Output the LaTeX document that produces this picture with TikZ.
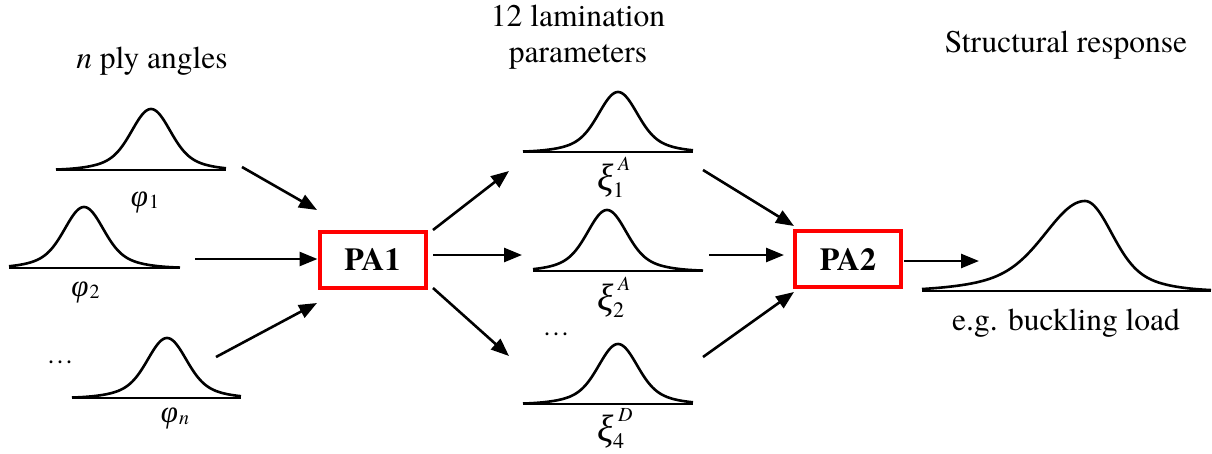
\documentclass[tikz,border=0pt]{standalone}
\usepackage{fontspec}
\setmainfont{texgyretermes}[Extension=.otf, UprightFont=*-regular, BoldFont=*-bold, ItalicFont=*-italic, BoldItalicFont=*-bolditalic]
\newfontfamily\greekit{Liberation Serif Italic}
\usetikzlibrary{arrows.meta}
\newcommand\bellcurve[7]{%
  \draw[curve] (#1,#4) -- (#2,#4);
  \draw[curve] plot[domain=#1:#3, samples=70] (\x, {#4-#5*(0.75*exp(-0.5*((\x-#3)/#6)*((\x-#3)/#6))+0.25*exp(-0.125*((\x-#3)/#6)*((\x-#3)/#6)))})
     -- plot[domain=#3:#2, samples=70] (\x, {#4-#5*(0.75*exp(-0.5*((\x-#3)/#7)*((\x-#3)/#7))+0.25*exp(-0.125*((\x-#3)/#7)*((\x-#3)/#7)))});
}
\tikzset{
  big/.style={font=\rmfamily\fontsize{31.5}{36}\selectfont, inner sep=0pt, align=center},
  lab/.style={font=\rmfamily\fontsize{31}{34}\selectfont, inner sep=0pt, anchor=north},
  dots/.style={font=\rmfamily\fontsize{27}{30}\selectfont, inner sep=0pt},
  pabox/.style={draw=red, line width=4pt, minimum width=106pt, minimum height=56pt, inner sep=0pt, font=\rmfamily\fontsize{32}{36}\selectfont\bfseries},
  arr/.style={line width=2.6pt, -{Triangle[length=18pt,width=14pt]}},
  curve/.style={line width=2.6pt, line join=round, line cap=butt},
}
\newcommand\phil[1]{{\greekit φ}\hspace{1pt}\raisebox{-2pt}{\fontsize{20}{22}\selectfont #1}}
\newcommand\xil[2]{{\fontsize{38}{40}\selectfont\greekit ξ}\hspace{-1pt}\makebox[0pt][l]{\hspace{5pt}\raisebox{20pt}{\fontsize{20}{22}\selectfont\itshape #1}}\raisebox{-7pt}{\fontsize{22}{24}\selectfont #2}\hspace{13pt}}
\begin{document}
\begin{tikzpicture}[x=1pt,y=-1pt]
\useasboundingbox (0,0) rectangle (1212,453);
% titles
\node[big, anchor=base] (t1) at (152,68) {{\itshape n} ply angles};
\node[big, anchor=north] (t2) at (578,5) {12 lamination\\parameters};
\node[big, anchor=base] (t3) at (1066,52) {Structural response};
\node[big, anchor=base] (t4) at (1066,330) {e.g. buckling load};
% left distributions
\bellcurve{56}{226}{151}{170}{61}{18}{18}
\bellcurve{9}{180}{84}{268}{61}{18}{18}
\bellcurve{72}{241}{167}{398}{60}{18}{18}
\node[lab] (p1) at (145,192) {\phil{1}};
\node[lab] (p2) at (85.5,282) {\phil{2}};
\node[lab] (pn) at (175,408) {\phil{\itshape n}};
\node[dots] (d1) at (60,362) {\ldots};
% middle distributions
\bellcurve{523}{693}{618}{152}{60}{18}{18}
\bellcurve{533}{703}{607}{271}{61}{18}{18}
\bellcurve{523}{693}{618}{404}{60}{18}{18}
\node[lab] (x1) at (611,157) {\xil{A}{1}};
\node[lab] (x2) at (611,277) {\xil{A}{2}};
\node[lab] (x4) at (611,408) {\xil{D}{4}};
\node[dots] (d2) at (556,334) {\ldots};
% right distribution
\bellcurve{922}{1211}{1085}{291}{90}{37}{25}
% boxes
\node[pabox] (PA1) at (372.5,259.5) {PA1};
\node[pabox] (PA2) at (848,259) {PA2};
% arrow coordinates
\coordinate (a1s) at (242,167); \coordinate (a1e) at (317,210);
\coordinate (a2s) at (195,259);
\coordinate (a3s) at (216,357); \coordinate (a3e) at (317,303);
\coordinate (b1s) at (433,230); \coordinate (b1e) at (509,171);
\coordinate (b2s) at (433,255); \coordinate (b2e) at (522,255);
\coordinate (b3s) at (433,288); \coordinate (b3e) at (509,356);
\coordinate (c1s) at (703,170); \coordinate (c1e) at (794,226);
\coordinate (c2s) at (709,255); \coordinate (c2e) at (784,255);
\coordinate (c3s) at (703,357); \coordinate (c3e) at (794,292);
\coordinate (ds) at (904,261); \coordinate (de) at (979,261);
\draw[arr] (a1s) -- (a1e);
\draw[arr] (a2s) -- (a2s -| PA1.west);
\draw[arr] (a3s) -- (a3e);
\draw[arr] (b1s) -- (b1e);
\draw[arr] (b2s) -- (b2e);
\draw[arr] (b3s) -- (b3e);
\draw[arr] (c1s) -- (c1e);
\draw[arr] (c2s) -- (c2e);
\draw[arr] (c3s) -- (c3e);
\draw[arr] (ds) -- (de);
\end{tikzpicture}
\end{document}
